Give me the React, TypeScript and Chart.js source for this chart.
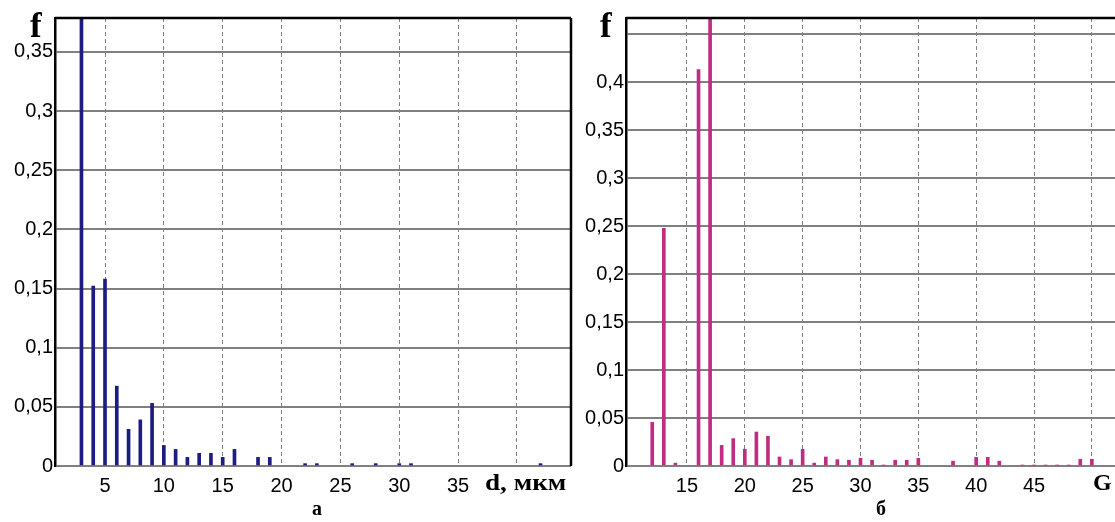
import React, { useEffect, useRef } from 'react';
import { Chart, registerables } from 'chart.js';

Chart.register(...registerables);

// ---- data: panel "а" (d, мкм) ----
const leftD = [3, 4, 5, 6, 7, 8, 9, 10, 11, 12, 13, 14, 15, 16, 18, 19, 22, 23, 26, 28, 30, 31, 42];
const leftF = [0.45, 0.152, 0.158, 0.0675, 0.031, 0.039, 0.053, 0.0174, 0.014, 0.0073, 0.0107, 0.0107, 0.0073, 0.014, 0.0073, 0.0073, 0.002, 0.002, 0.002, 0.002, 0.002, 0.002, 0.002];
const leftXTicks = [5, 10, 15, 20, 25, 30, 35, 40];
const leftXLabels = ['5', '10', '15', '20', '25', '30', '35', ''];
const leftYTicks = [0, 0.05, 0.1, 0.15, 0.2, 0.25, 0.3, 0.35];
const leftYLabels = ['0', '0,05', '0,1', '0,15', '0,2', '0,25', '0,3', '0,35'];

// ---- data: panel "б" (G) ----
const rightG = [12, 13, 14, 16, 17, 18, 19, 20, 21, 22, 23, 24, 25, 26, 27, 28, 29, 30, 31, 32, 33, 34, 35, 38, 40, 41, 42, 44, 45, 46, 47, 48, 49, 50];
const rightF = [0.0455, 0.2476, 0.003, 0.413, 0.5, 0.0215, 0.0285, 0.0174, 0.0354, 0.031, 0.0094, 0.0066, 0.0174, 0.003, 0.0094, 0.0066, 0.006, 0.008, 0.006, 0.001, 0.006, 0.006, 0.008, 0.005, 0.009, 0.009, 0.005, 0.001, 0.001, 0.001, 0.001, 0.001, 0.007, 0.007];
const rightXTicks = [15, 20, 25, 30, 35, 40, 45, 50];
const rightXLabels = ['15', '20', '25', '30', '35', '40', '45', ''];
const rightYTicks = [0, 0.05, 0.1, 0.15, 0.2, 0.25, 0.3, 0.35, 0.4, 0.45];
const rightYLabels = ['0', '0,05', '0,1', '0,15', '0,2', '0,25', '0,3', '0,35', '0,4', ''];

const TICK_FONT = { family: "'Liberation Sans', Arial, sans-serif", size: 20 };

const framePlugin = {
  id: 'frame',
  afterDatasetsDraw(chart: any, _args: any, opts: any) {
    const { ctx, chartArea } = chart;
    const { left, top, right, bottom } = chartArea;
    ctx.save();
    ctx.strokeStyle = '#000';
    ctx.lineWidth = 2.5;
    ctx.beginPath();
    ctx.moveTo(left, top);
    ctx.lineTo(right, top);
    if (opts && opts.right) {
      ctx.moveTo(right, top);
      ctx.lineTo(right, bottom);
    }
    ctx.stroke();
    ctx.restore();
  },
};

function makeConfig(p: {
  xs: number[]; ys: number[]; color: string;
  xMin: number; xMax: number; yMax: number;
  xTicks: number[]; xLabels: string[]; yTicks: number[]; yLabels: string[];
  yWidth: number; padRight: number; rightBorder: boolean;
}): any {
  return {
    type: 'bar',
    data: {
      datasets: [
        {
          data: p.xs.map((x, i) => ({ x, y: p.ys[i] })),
          backgroundColor: p.color,
          borderWidth: 0,
          barThickness: 3,
          clip: 0,
        },
      ],
    },
    plugins: [framePlugin],
    options: {
      animation: false,
      responsive: false,
      events: [],
      layout: { padding: { left: 0, top: 18, right: p.padRight, bottom: 0 } },
      plugins: {
        legend: { display: false },
        tooltip: { enabled: false },
        frame: { right: p.rightBorder },
      },
      scales: {
        x: {
          type: 'linear',
          offset: false,
          min: p.xMin,
          max: p.xMax,
          afterBuildTicks: (s: any) => { s.ticks = p.xTicks.map((v) => ({ value: v })); },
          afterFit: (s: any) => { s.height = 56; },
          ticks: {
            autoSkip: false,
            maxRotation: 0,
            color: '#000',
            font: TICK_FONT,
            padding: 8,
            callback: (v: number) => p.xLabels[p.xTicks.indexOf(v)] ?? '',
          },
          grid: { color: '#808080', lineWidth: 1, drawTicks: false, offset: false },
          border: { display: false, dash: [4, 3] },
        },
        y: {
          type: 'linear',
          min: 0,
          max: p.yMax,
          afterBuildTicks: (s: any) => { s.ticks = p.yTicks.map((v) => ({ value: v })); },
          afterFit: (s: any) => { s.width = p.yWidth; },
          ticks: {
            color: '#000',
            font: TICK_FONT,
            padding: 2,
            callback: (v: number) => {
              const i = p.yTicks.findIndex((t) => Math.abs(t - v) < 1e-9);
              return i >= 0 ? p.yLabels[i] : '';
            },
          },
          grid: { color: '#808080', lineWidth: 2, drawTicks: false },
          border: { display: true, color: '#000', width: 2.5 },
        },
      },
    },
  };
}

function ChartCanvas(props: { config: any; left: number; width: number }) {
  const ref = useRef<HTMLCanvasElement | null>(null);
  useEffect(() => {
    if (!ref.current) return;
    const chart = new Chart(ref.current, props.config);
    return () => chart.destroy();
  }, []);
  return (
    <canvas
      ref={ref}
      width={props.width}
      height={522}
      style={{ position: 'absolute', left: props.left, top: 0, width: props.width, height: 522 }}
    />
  );
}

const serif = "'Liberation Serif', 'Times New Roman', serif";

function Label(props: { text: string; left: number; top: number; size: number; center?: boolean; stretch?: number }) {
  const t: string[] = [];
  if (props.center) t.push('translateX(-50%)');
  if (props.stretch) t.push(`scaleX(${props.stretch})`);
  return (
    <span
      style={{
        position: 'absolute',
        left: props.left,
        top: props.top,
        fontFamily: serif,
        fontWeight: 'bold',
        fontSize: props.size,
        lineHeight: props.size + 'px',
        whiteSpace: 'nowrap',
        color: '#000',
        transformOrigin: 'left top',
        transform: t.length ? t.join(' ') : undefined,
      }}
    >
      {props.text}
    </span>
  );
}

export default function App() {
  const leftConfig = makeConfig({
    xs: leftD, ys: leftF, color: '#1c1c82',
    xMin: 0.752, xMax: 44.59, yMax: 0.3787,
    xTicks: leftXTicks, xLabels: leftXLabels, yTicks: leftYTicks, yLabels: leftYLabels,
    yWidth: 55, padRight: 19, rightBorder: true,
  });
  const rightConfig = makeConfig({
    xs: rightG, ys: rightF, color: '#c02c82',
    xMin: 9.73, xMax: 52, yMax: 0.4667,
    xTicks: rightXTicks, xLabels: rightXLabels, yTicks: rightYTicks, yLabels: rightYLabels,
    yWidth: 46, padRight: 0, rightBorder: false,
  });
  return (
    <div
      style={{
        position: 'absolute', left: 0, top: 0, width: 1115, height: 522,
        overflow: 'hidden', background: '#fff',
      }}
    >
      <ChartCanvas config={leftConfig} left={0} width={590} />
      <ChartCanvas config={rightConfig} left={580} width={535} />
      <Label text="f" left={30} top={8} size={35} />
      <Label text="f" left={600} top={8} size={35} />
      <Label text="d, мкм" left={485} top={471} size={23} stretch={1.18} />
      <Label text="G" left={1093} top={470} size={24} />
      <Label text="а" left={317} top={498} size={20} center />
      <Label text="б" left={881} top={498} size={20} center />
    </div>
  );
}
